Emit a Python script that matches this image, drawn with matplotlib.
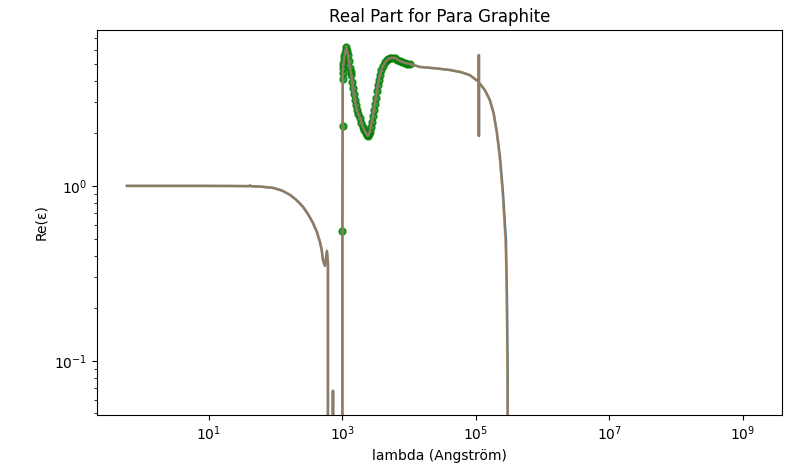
import numpy as np
import matplotlib
matplotlib.use('Agg')
from matplotlib import pyplot as plt

# wavelength (Angstrom) and real part of the dielectric function
lam = [0.59, 2.0, 8.0, 20.0, 40.0, 41.5, 43.0, 60.0, 91.0, 125.0, 163.0, 205.0, 256.0,
       305.0, 361.0, 415.0, 460.0, 490.0, 510.0, 547.0, 586.0, 607.0, 628.0, 660.0,
       697.0, 722.0, 747.0, 985.0,
       1000.0, 1008.0, 1012.0, 1020.0, 1053.0, 1090.0, 1148.0, 1209.0, 1295.0, 1364.0,
       1437.0, 1539.0, 1649.0, 1829.0, 2028.0, 2250.0, 2410.0, 2582.0, 2767.0, 2965.0,
       3177.0, 3404.0, 3647.0, 4045.0, 4645.0, 5150.0, 6120.0, 7270.0, 8630.0, 10250.0,
       14500.0, 25000.0, 41000.0, 60000.0, 81000.0, 100000.0, 110900.0, 111000.0,
       111100.0, 111200.0, 136000.0, 162000.0, 185000.0, 207000.0, 229000.0, 254000.0,
       282000.0, 292000.0, 300000.0, 310000.0, 1.0e6, 1.0e8, 1.35e9]
re_eps = [1.0, 1.0, 1.0, 0.999, 0.997, 1.006, 0.996, 0.99, 0.975, 0.94, 0.89, 0.83, 0.76,
          0.69, 0.615, 0.545, 0.479, 0.43, 0.378, 0.349, 0.425, 0.363, -0.3, -0.25,
          -0.2, 0.0674, -0.2, -0.5,
          0.553, 2.2, 4.09, 4.72, 5.25, 5.75, 6.23, 5.61, 4.72, 4.31,
          3.63, 3.10, 2.72, 2.45, 2.17, 2.01, 1.93, 2.04, 2.32, 2.72,
          3.18, 3.78, 4.31, 4.85, 5.25, 5.39, 5.39, 5.18, 5.05, 4.98,
          4.79, 4.7, 4.6, 4.47, 4.3, 4.05, 3.95, 5.6,
          1.93, 3.9, 3.54, 3.1, 2.6, 2.01, 1.41, 0.865,
          0.43, 0.195, 0.05, -1.0, -50.0, -5.0e5, -1.0e8]
# second model: same curve but drops off a little later
re_eps_b = list(re_eps)
re_eps_b[-9:-4] = [1.48, 0.93, 0.49, 0.24, 0.08]

# measured points
lam_meas = [1000.0, 1008.0, 1012.0, 1016.0, 1020.0, 1035.0, 1053.0, 1070.0, 1090.0,
            1120.0, 1148.0, 1180.0, 1209.0, 1250.0, 1295.0, 1330.0, 1364.0, 1400.0,
            1437.0, 1490.0, 1539.0, 1590.0, 1649.0, 1740.0, 1829.0, 1930.0, 2028.0,
            2140.0, 2250.0, 2330.0, 2410.0, 2500.0, 2582.0, 2670.0, 2767.0, 2860.0,
            2965.0, 3070.0, 3177.0, 3290.0, 3404.0, 3520.0, 3647.0, 3840.0, 4045.0,
            4330.0, 4645.0, 4900.0, 5150.0, 5600.0, 6120.0, 6650.0, 7270.0, 7900.0,
            8630.0, 9400.0, 10250.0]
eps_meas = [0.553, 2.2, 4.09, 4.4, 4.72, 5.0, 5.25, 5.5, 5.75,
            6.0, 6.23, 5.9, 5.61, 5.15, 4.72, 4.5, 4.31, 3.95,
            3.63, 3.35, 3.10, 2.9, 2.72, 2.58, 2.45, 2.3, 2.17,
            2.08, 2.01, 1.96, 1.93, 1.97, 2.04, 2.17, 2.32, 2.5,
            2.72, 2.94, 3.18, 3.47, 3.78, 4.05, 4.31, 4.6, 4.85,
            5.08, 5.25, 5.34, 5.39, 5.41, 5.39, 5.28, 5.18, 5.1,
            5.05, 5.0, 4.98]

fig, ax = plt.subplots(figsize=(7.92, 4.73), dpi=100)
fig.subplots_adjust(left=0.1225, right=0.987, top=0.9366, bottom=0.123)

ax.plot(lam_meas, eps_meas, 'o', color='green', markersize=5, alpha=0.8)
ax.plot(lam, re_eps_b, color='C0', lw=1.8)
ax.plot(lam, re_eps, color='C1', lw=1.8, alpha=0.5)

ax.set_xscale('log')
ax.set_yscale('log')
ax.set_xlim(0.21, 3.84e9)
ax.set_ylim(0.0491, 7.79)

ax.set_title('Real Part for Para Graphite')
ax.set_xlabel('lambda (Angström)')
ax.set_ylabel('Re(ε)')

fig.savefig('out.png', dpi=100)
